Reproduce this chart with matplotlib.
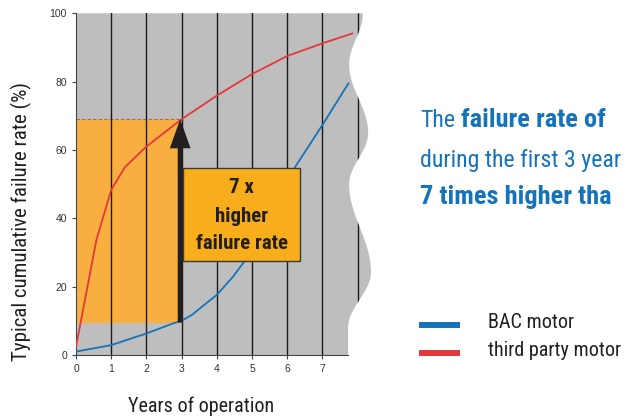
import numpy as np
import matplotlib
matplotlib.use("Agg")
import matplotlib.pyplot as plt
import matplotlib.font_manager as fm
from matplotlib.patches import Rectangle, Polygon, FancyArrow

# ---------------- data ----------------
years_third = [0, 0.58, 1, 1.39, 2, 2.5, 3, 4, 5, 6, 7, 7.85]
third_party = [2.4, 33.7, 48.3, 55, 61, 65, 69, 75.9, 82.2, 87.5, 91.2, 94.1]
years_bac = [0, 1, 2, 2.77, 3, 3.3, 3.6, 4, 4.46, 4.74, 5.2, 5.7, 6.23, 7, 7.74]
bac = [1.0, 2.9, 6.3, 9.3, 10, 11.8, 14.3, 17.6, 22.9, 26.8, 33, 43, 55.1, 67.3, 79.5]
x_ticks = [0, 1, 2, 3, 4, 5, 6, 7]
y_ticks = [0, 20, 40, 60, 80, 100]
highlight_year = 3
bac_at_3 = 9.5
third_at_3 = 69
series_labels = ["BAC motor", "third party motor"]

# wavy right edge of the grey panel (decoration): (y, x) control points
edge_y = [0, 8, 24.3, 50, 65, 85, 100]
edge_x = [7.73, 7.73, 8.38, 7.76, 8.30, 7.76, 8.15]

# ---------------- fonts ----------------
names = {f.name for f in fm.fontManager.ttflist}
cond = next((n for n in ["Roboto Condensed", "Liberation Sans Narrow",
                         "Open Sans Condensed", "Noto Sans Condensed"] if n in names), None)
if cond:
    COND = dict(family=cond)
else:
    COND = dict(family="DejaVu Sans", stretch="condensed")
SMALL = "Liberation Sans" if "Liberation Sans" in names else "DejaVu Sans"

BLUE = "#1573BB"
RED = "#E4373C"
GREY = "#BEBEBE"

fig = plt.figure(figsize=(6.25, 4.16), dpi=100)
W, H = 625, 416
x0px, y0px = 76, 355
pxy = 35.2
pyu = 3.417
xmax = 8.5
ax = fig.add_axes([x0px / W, (H - y0px) / H, xmax * pxy / W, 100 * pyu / H])
ax.set_xlim(0, xmax)
ax.set_ylim(0, 100)
ax.patch.set_alpha(0)

# grey panel with wavy edge
yy = np.linspace(0, 100, 400)
xx = np.empty_like(yy)
for i, y in enumerate(yy):
    j = min(np.searchsorted(edge_y, y, side="right") - 1, len(edge_y) - 2)
    t = (y - edge_y[j]) / (edge_y[j + 1] - edge_y[j])
    s = (1 - np.cos(np.pi * t)) / 2
    xx[i] = edge_x[j] + (edge_x[j + 1] - edge_x[j]) * s
verts = [(0, 0)] + list(zip(xx, yy)) + [(0, 100)]
panel = Polygon(verts, closed=True, fc=GREY, ec="none", zorder=0)
ax.add_patch(panel)

# orange highlighted region
ax.add_patch(Rectangle((0, bac_at_3), highlight_year, third_at_3 - bac_at_3,
                       fc="#F8AF40", ec="none", zorder=1))
ax.plot([0, highlight_year], [third_at_3, third_at_3], ls=(0, (3, 2)),
        color="#7a7a7a", lw=0.8, zorder=2)

# vertical grid lines
for xv in x_ticks[1:]:
    ax.plot([xv, xv], [0, 100], color="#1a1a1a", lw=1.0, zorder=2)
l8, = ax.plot([8, 8], [0, 100], color="#1a1a1a", lw=1.0, zorder=2)
l8.set_clip_path(panel)

# curves
ax.plot(years_third, third_party, color=RED, lw=1.3, zorder=3)
ax.plot(years_bac, bac, color=BLUE, lw=1.3, zorder=3)

# arrow
ax.add_patch(FancyArrow(2.96, bac_at_3, 0, third_at_3 - bac_at_3, width=0.14,
                        head_width=0.59, head_length=8.5, length_includes_head=True,
                        fc="#231f20", ec="none", zorder=4))

# annotation box
ax.add_patch(Rectangle((3.05, 27.5), 3.31, 27.1, fc="#F8AE1A", ec="#3a3a3a",
                       lw=1.0, zorder=5))
cx = 3.05 + 3.31 / 2
for txt, ty in [("7 x", 49.0), ("higher", 40.6), ("failure rate", 32.6)]:
    ax.text(cx, ty, txt, ha="center", va="center", fontsize=15, fontweight="bold",
            color="#231f20", zorder=6, **COND)

# axes styling
for s in ["top", "right"]:
    ax.spines[s].set_visible(False)
ax.spines["left"].set_color("#444444")
ax.spines["bottom"].set_color("#444444")
ax.spines["bottom"].set_bounds(0, 7.73)
ax.spines["left"].set_zorder(2.5)
ax.set_xticks(x_ticks)
ax.set_yticks(y_ticks)
ax.tick_params(direction="out", length=3, width=0.8, colors="#444444",
               labelsize=7.5, labelcolor="#333333")
for lab in ax.get_xticklabels() + ax.get_yticklabels():
    lab.set_family(SMALL)

ax.set_ylabel("Typical cumulative failure rate (%)", fontsize=15, color="#231f20",
              **COND)
ax.yaxis.set_label_coords(-44 / (xmax * pxy), 0.39)
ax.set_xlabel("Years of operation", fontsize=14.5, color="#231f20", **COND)
ax.xaxis.set_label_coords(3.55 / xmax, -41 / (100 * pyu))

# right-hand message
fs = 17.2
fsb = 19
t1 = fig.text(420 / W, 1 - 127 / H, "The", fontsize=fs, color=BLUE, va="baseline", **COND)
ax.annotate("failure rate of", xy=(1, 0), xycoords=t1, xytext=(4, 0),
            textcoords="offset points", va="bottom", ha="left", fontsize=fsb,
            fontweight="bold", color=BLUE, annotation_clip=False, **COND)
fig.text(420 / W, 1 - 167 / H, "during the first 3 year", fontsize=fs, color=BLUE,
         va="baseline", **COND)
fig.text(420 / W, 1 - 204 / H, "7 times higher tha", fontsize=fsb, color=BLUE,
         fontweight="bold", va="baseline", **COND)

# legend
for ypx, col, lab in [(325, BLUE, series_labels[0]), (353, RED, series_labels[1])]:
    fig.add_artist(plt.Line2D([419 / W, 460 / W], [1 - ypx / H, 1 - ypx / H],
                              color=col, lw=4.3, solid_capstyle="butt",
                              transform=fig.transFigure))
    fig.text(488 / W, 1 - (ypx - 3) / H, lab, fontsize=14.5, color="#231f20",
             va="center", **COND)

fig.savefig("out.png", dpi=100)
